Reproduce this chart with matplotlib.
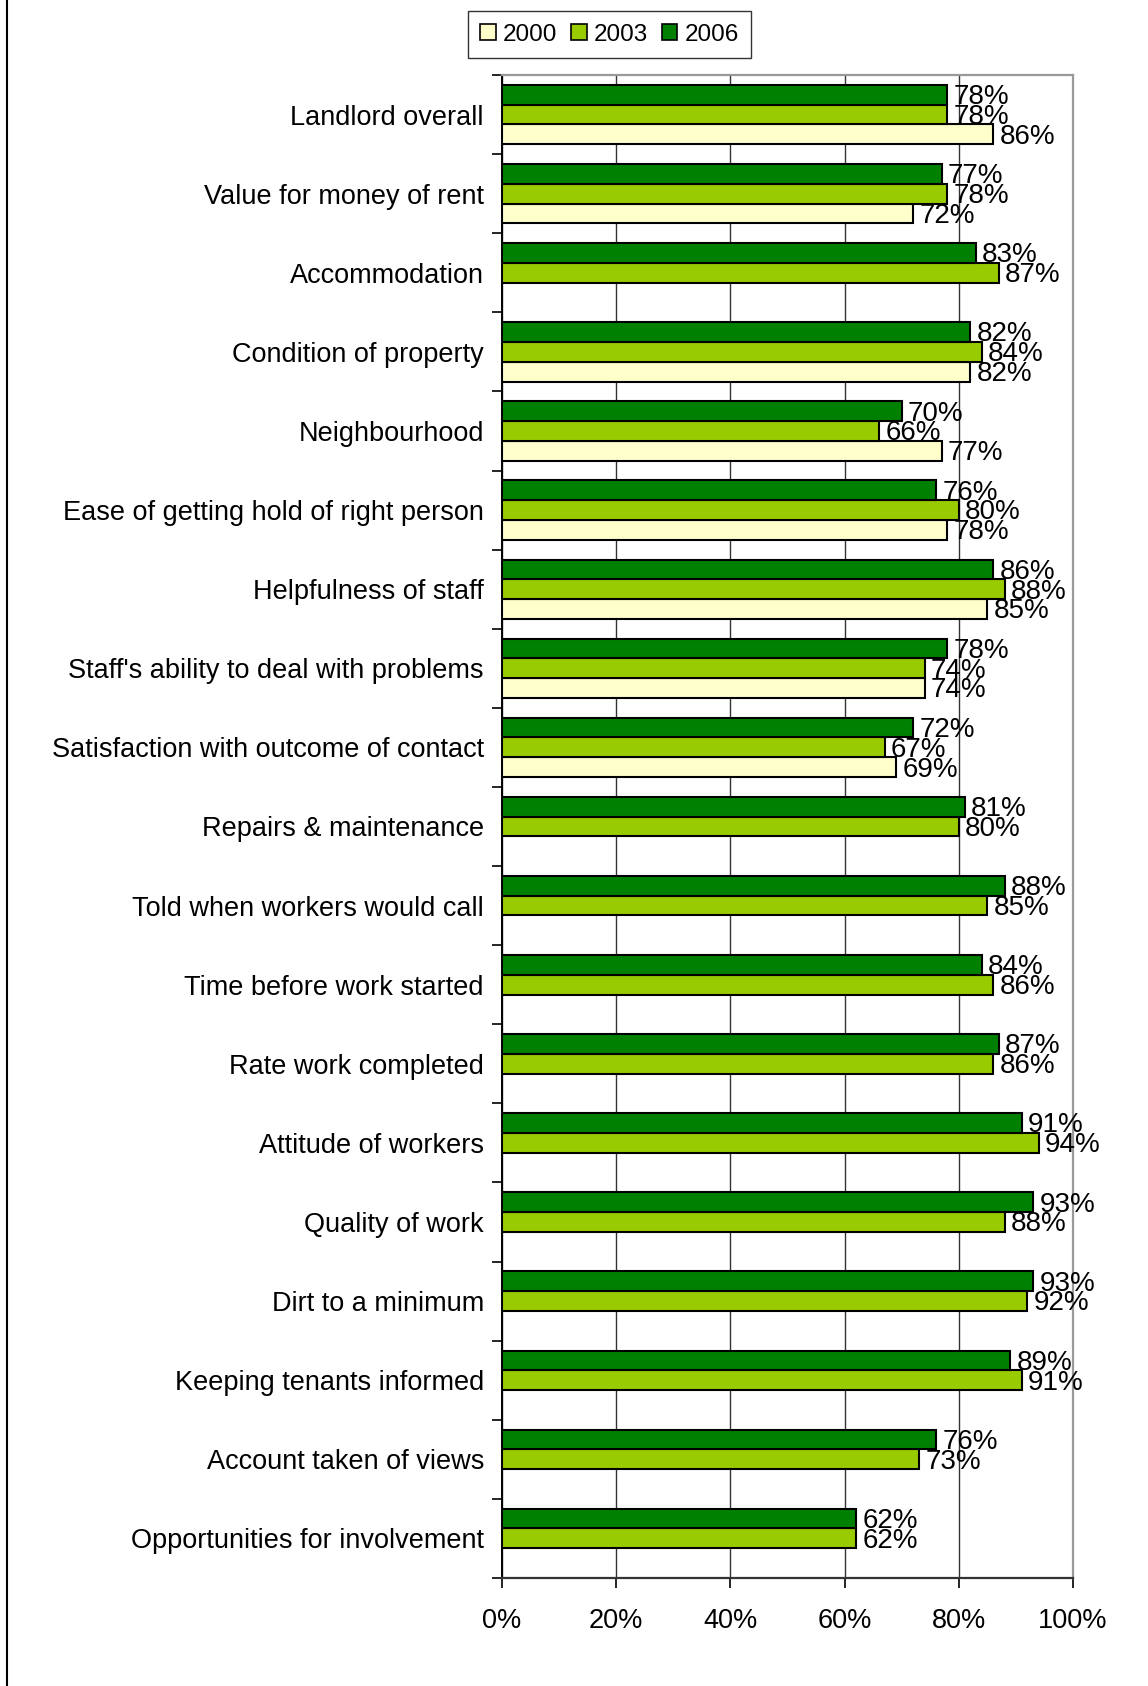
import numpy as np
import matplotlib.pyplot as plt
from matplotlib.lines import Line2D


#######################################################
### Data

categories = [
    "Landlord overall",
    "Value for money of rent",
    "Accommodation",
    "Condition of property",
    "Neighbourhood",
    "Ease of getting hold of right person",
    "Helpfulness of staff",
    "Staff's ability to deal with problems",
    "Satisfaction with outcome of contact",
    "Repairs & maintenance",
    "Told when workers would call",
    "Time before work started",
    "Rate work completed",
    "Attitude of workers",
    "Quality of work",
    "Dirt to a minimum",
    "Keeping tenants informed",
    "Account taken of views",
    "Opportunities for involvement",
]

sat_2000 = [86, 72, None, 82, 77, 78, 85, 74, 69,
            None, None, None, None, None, None, None, None, None, None]
sat_2003 = [78, 78, 87, 84, 66, 80, 88, 74, 67,
            80, 85, 86, 86, 94, 88, 92, 91, 73, 62]
sat_2006 = [78, 77, 83, 82, 70, 76, 86, 78, 72,
            81, 88, 84, 87, 91, 93, 93, 89, 76, 62]

years = ["2000", "2003", "2006"]
x_ticks = [0, 20, 40, 60, 80, 100]


#######################################################
### Plot

plt.rcParams["font.family"] = ["Liberation Sans", "DejaVu Sans"]

fig = plt.figure(figsize=(11.48, 16.86), dpi=100)
ax = fig.add_axes([0.4373, 0.0641, 0.4974, 0.8914])

colors = ["#FFFFCC", "#99CC00", "#008000"]
offsets = [0.25, 0.0, -0.25]
bar_h = 0.25
pos = np.arange(len(categories))

handles = []
for series, col, off, yr in zip([sat_2000, sat_2003, sat_2006], colors, offsets, years):
    idx = [i for i, v in enumerate(series) if v is not None]
    vals = [series[i] for i in idx]
    bars = ax.barh(pos[idx] + off, vals, height=bar_h, color=col,
                   edgecolor="black", linewidth=1.5, label=yr, zorder=3)
    handles.append(bars)
    for i, v in zip(idx, vals):
        ax.text(v + 1.1, pos[i] + off + 0.03, f"{v}%", fontsize=20,
                va="center", ha="left", zorder=4)

ax.set_xlim(0, 100)
ax.set_ylim(len(categories) - 0.5, -0.5)

# gridlines and frame
ax.set_xticks(x_ticks)
ax.set_xticklabels([f"{t}%" for t in x_ticks], fontsize=19.5)
ax.xaxis.grid(True, color="#333333", linewidth=1.0, zorder=0)
ax.tick_params(axis="x", direction="out", length=7, width=1.2, pad=15)

ax.set_yticks(np.arange(len(categories) + 1) - 0.5)
ax.set_yticklabels([])
ax.set_yticks(pos, minor=True)
ax.set_yticklabels(categories, minor=True, fontsize=19.5)
ax.tick_params(axis="y", which="major", direction="out", length=7, width=1.2)
ax.tick_params(axis="y", which="minor", length=0, pad=13)

ax.spines["left"].set_color("black")
ax.spines["left"].set_linewidth(1.4)
ax.spines["bottom"].set_color("#333333")
ax.spines["bottom"].set_linewidth(1.6)
ax.spines["top"].set_color("#999999")
ax.spines["top"].set_linewidth(1.6)
ax.spines["right"].set_color("#999999")
ax.spines["right"].set_linewidth(1.6)

leg = fig.legend(handles=handles, labels=years, loc="center",
                 bbox_to_anchor=(0.531, 0.9795), ncol=3, fontsize=17.5,
                 frameon=True, fancybox=False, edgecolor="black",
                 handlelength=0.65, handleheight=0.65, handletextpad=0.3,
                 columnspacing=0.55, borderpad=0.5, borderaxespad=0.3)
leg.get_frame().set_linewidth(1.0)
for h in leg.legend_handles:
    h.set_linewidth(1.2)

# left page border
fig.add_artist(Line2D([7 / 1148, 7 / 1148], [0, 1], color="black",
                      linewidth=1.5, transform=fig.transFigure))

fig.savefig("out.png", dpi=100)
